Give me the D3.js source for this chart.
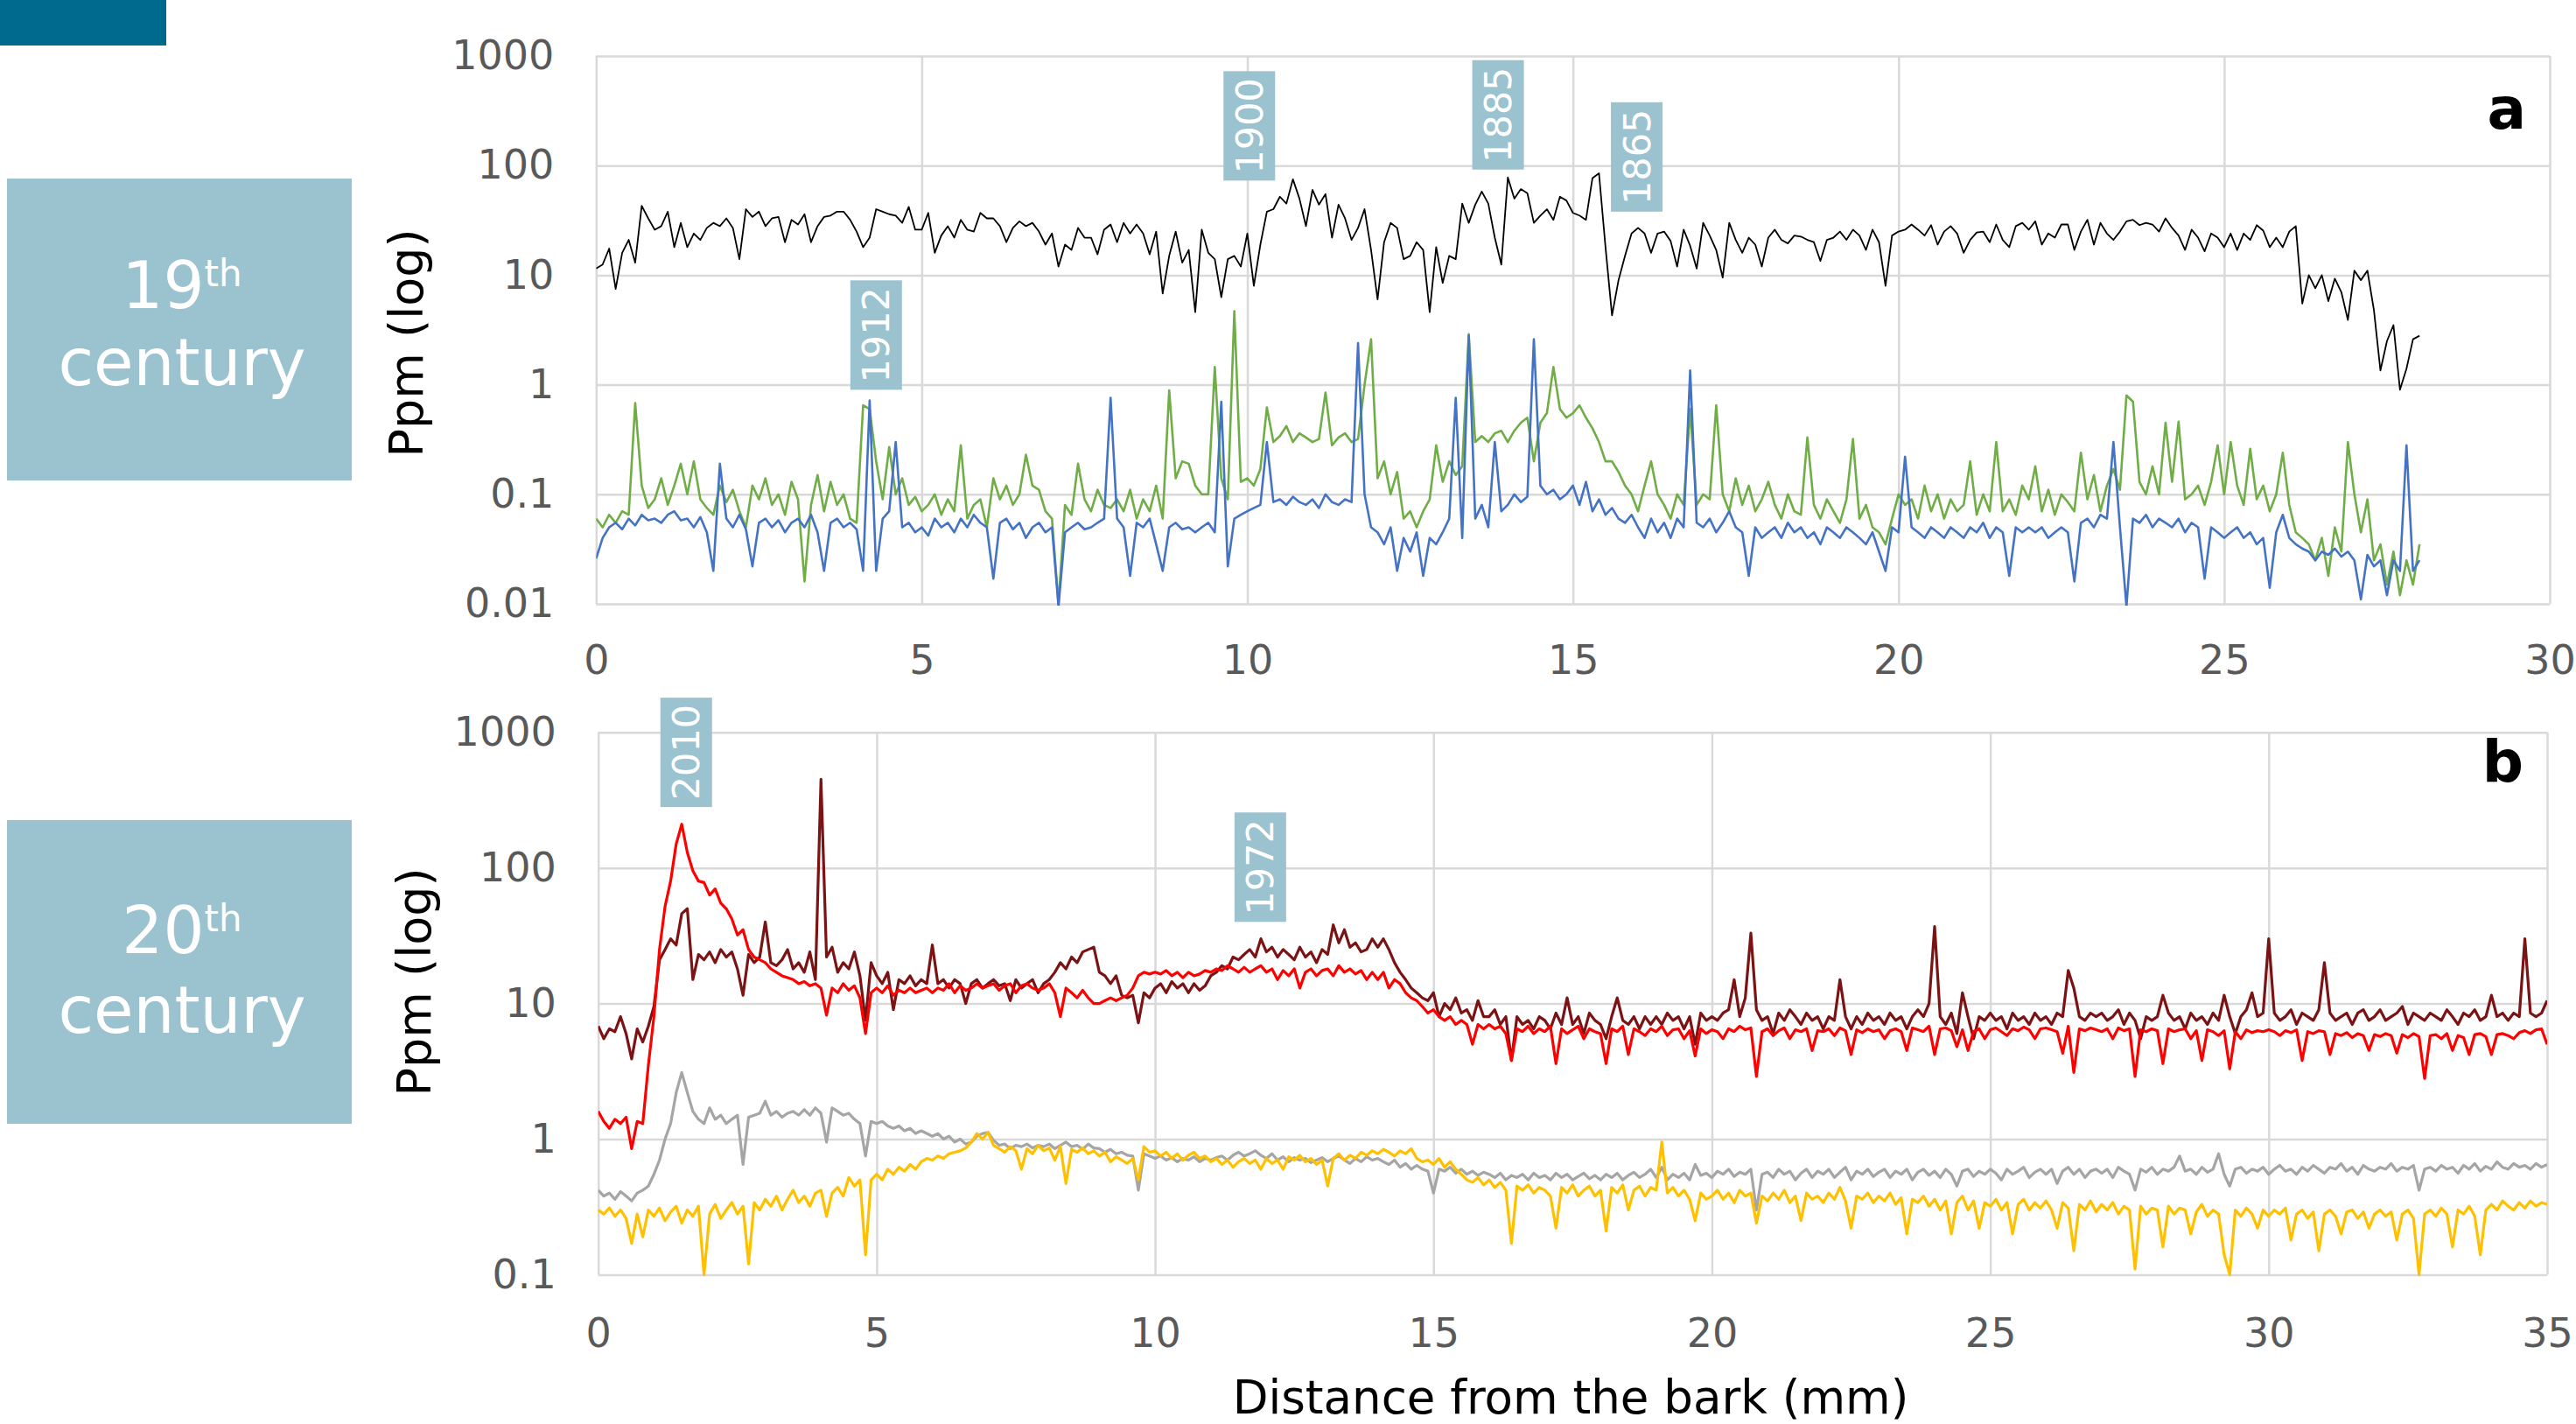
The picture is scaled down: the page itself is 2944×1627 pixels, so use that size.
<!DOCTYPE html>
<html>
<head>
<meta charset="utf-8">
<script src="https://cdn.jsdelivr.net/npm/d3@7"></script>
<style>
  body { margin: 0; background: #fff; }
  text { font-family: "DejaVu Sans", Verdana, sans-serif; }
</style>
</head>
<body>
<script>
// ---- data (ppm, one value every 0.1 mm from the bark) ----

// panel a : 19th century, 0 - 28 mm
const stepA = 0.1;
const blackA = [
  11.5,12.5,17.5,7.5,16,21,13,43,33,26,
  28,38,18,30,18,24,21,27,30,28,
  33,27,14,40,34,38,28,33,34,20,
  32,29,36,20,28,34,35,38,38,32,
  25,18,22,40,38,36,35,30,42,26,
  26,37,16,23,28,22,32,26,25,37,
  33,33,28,20,27,31,28,30,25,19,
  24,12,19,17,27,22,22,15.5,26,29,
  20,30,24,29,24,15.5,25,6.8,15,25,
  13,17,4.6,26,16,14,6.3,14,15,12,
  24,8,19,38,40,52,45,75,50,28,
  60,44,55,22,44,33,21,27,40,17,
  6,20,30,27,14,15,20,17,4.6,18,
  8.5,15,14,45,30,44,58,45,22,12.5,
  78,50,61,56,30,35,40,32,52,48,
  37,35,32,77,85,18,4.3,9,15,24,
  27,24,16,24,25,20.5,12,26,18.5,11.5,
  30,23,17,9.5,30,21,16,22,19,12,
  22,26,21,19.5,23,22.5,21,20,13.5,21,
  22,25,21,26,23,17,26,20,8,23,
  25,26,29,26,23,28.6,19,25,28,24,
  16,21,24.5,25,20,29,21,18,28,30,
  26,31,19,24,22,29,29,17,25,32,
  19,30,24,21,25,31,32,28.6,30,29,
  25,33,27,23,17,26,22,16.5,24,22,
  18,24,17,24,21,28.6,25.5,18,22,18,
  25,28,5.5,10,7.6,10,5.8,9.3,7,3.9,
  11,9,11,4.8,1.35,2.5,3.5,0.9,1.4,2.6,
  2.8
];
const greenA = [
  0.06,0.05,0.065,0.055,0.07,0.065,0.68,0.12,0.075,0.09,
  0.14,0.08,0.12,0.19,0.1,0.2,0.09,0.075,0.065,0.12,
  0.085,0.11,0.07,0.05,0.12,0.09,0.14,0.08,0.1,0.065,
  0.13,0.09,0.016,0.08,0.15,0.07,0.13,0.08,0.1,0.06,
  0.055,0.65,0.6,0.2,0.09,0.27,0.1,0.14,0.08,0.095,
  0.07,0.08,0.1,0.065,0.09,0.07,0.28,0.06,0.08,0.09,
  0.05,0.14,0.09,0.12,0.08,0.1,0.23,0.12,0.11,0.07,
  0.06,0.01,0.08,0.065,0.19,0.09,0.07,0.11,0.08,0.075,
  0.09,0.07,0.11,0.06,0.09,0.07,0.12,0.06,0.89,0.14,
  0.2,0.19,0.12,0.1,0.1,1.45,0.14,0.09,4.7,0.13,
  0.14,0.12,0.17,0.62,0.3,0.34,0.42,0.3,0.36,0.33,
  0.3,0.32,0.85,0.28,0.33,0.36,0.3,0.32,1.0,2.6,
  0.14,0.2,0.1,0.16,0.06,0.07,0.05,0.07,0.09,0.28,
  0.13,0.2,0.15,0.18,2.9,0.3,0.34,0.3,0.36,0.38,
  0.3,0.38,0.45,0.5,0.2,0.45,0.55,1.45,0.6,0.5,
  0.55,0.65,0.5,0.4,0.3,0.2,0.2,0.16,0.12,0.1,
  0.07,0.12,0.2,0.1,0.08,0.06,0.1,0.08,0.6,0.08,
  0.1,0.09,0.65,0.1,0.07,0.14,0.08,0.12,0.07,0.09,
  0.13,0.08,0.06,0.1,0.07,0.065,0.33,0.08,0.06,0.09,
  0.07,0.055,0.09,0.32,0.06,0.08,0.05,0.045,0.035,0.06,
  0.1,0.08,0.09,0.06,0.12,0.07,0.1,0.06,0.09,0.07,
  0.08,0.2,0.065,0.1,0.07,0.3,0.07,0.09,0.065,0.12,
  0.09,0.18,0.07,0.11,0.065,0.1,0.085,0.07,0.24,0.09,
  0.15,0.07,0.12,0.17,0.11,0.8,0.7,0.13,0.1,0.18,
  0.1,0.45,0.13,0.46,0.09,0.1,0.12,0.08,0.13,0.28,
  0.1,0.3,0.12,0.08,0.26,0.09,0.12,0.07,0.1,0.24,
  0.08,0.045,0.04,0.035,0.025,0.04,0.018,0.05,0.03,0.3,
  0.1,0.045,0.09,0.025,0.035,0.015,0.03,0.012,0.025,0.015,
  0.035
];
const blueA = [
  0.026,0.04,0.05,0.055,0.048,0.06,0.052,0.065,0.058,0.06,
  0.055,0.065,0.07,0.058,0.06,0.05,0.062,0.045,0.02,0.19,
  0.06,0.05,0.065,0.048,0.022,0.055,0.06,0.05,0.058,0.045,
  0.055,0.06,0.05,0.065,0.045,0.02,0.055,0.06,0.05,0.055,
  0.048,0.02,0.72,0.02,0.06,0.07,0.3,0.05,0.055,0.045,
  0.05,0.042,0.06,0.05,0.055,0.045,0.06,0.05,0.065,0.055,
  0.05,0.017,0.055,0.06,0.048,0.055,0.04,0.05,0.055,0.045,
  0.05,0.0095,0.045,0.05,0.055,0.048,0.05,0.055,0.06,0.76,
  0.06,0.05,0.018,0.055,0.05,0.06,0.035,0.02,0.05,0.055,
  0.048,0.05,0.045,0.05,0.055,0.045,0.7,0.022,0.06,0.065,
  0.07,0.075,0.08,0.3,0.085,0.09,0.08,0.095,0.085,0.08,
  0.09,0.075,0.1,0.085,0.08,0.09,0.085,2.4,0.1,0.05,
  0.045,0.035,0.05,0.02,0.04,0.03,0.045,0.018,0.04,0.035,
  0.045,0.06,0.76,0.04,2.8,0.06,0.08,0.05,0.3,0.07,
  0.08,0.1,0.085,0.095,2.6,0.12,0.1,0.11,0.09,0.1,
  0.12,0.08,0.13,0.07,0.09,0.065,0.075,0.06,0.055,0.065,
  0.05,0.04,0.06,0.045,0.055,0.04,0.06,0.05,1.35,0.055,
  0.05,0.06,0.045,0.055,0.07,0.05,0.045,0.018,0.05,0.04,
  0.045,0.05,0.04,0.055,0.045,0.05,0.04,0.045,0.035,0.05,
  0.045,0.04,0.05,0.045,0.04,0.035,0.045,0.03,0.02,0.05,
  0.045,0.22,0.05,0.045,0.04,0.05,0.045,0.04,0.05,0.045,
  0.04,0.05,0.045,0.055,0.04,0.05,0.045,0.018,0.05,0.045,
  0.05,0.045,0.05,0.04,0.045,0.05,0.045,0.016,0.055,0.06,
  0.05,0.065,0.06,0.3,0.05,0.0095,0.06,0.055,0.065,0.05,
  0.06,0.055,0.05,0.06,0.045,0.055,0.05,0.017,0.05,0.045,
  0.04,0.045,0.05,0.04,0.045,0.035,0.04,0.014,0.045,0.065,
  0.04,0.035,0.032,0.03,0.025,0.03,0.028,0.032,0.027,0.03,
  0.025,0.011,0.028,0.022,0.025,0.012,0.025,0.02,0.28,0.02,
  0.025
];

// panel b : 20th century, 0 - 35 mm
const stepB = 0.1;
const darkRedB = [
  6.8,5.5,6.5,6.2,8.0,6.0,3.9,6.5,5.2,6.8,
  9.5,21,25,30,27,46,50,15,23,21,
  24,20,25,22,24,18,11.5,23,20,22,
  40,20,19,21,25,18,20,17,24,15,
  450,22,26,17,20,18,24,16,7.5,20,
  16,14,17,9,15,14,16,13.5,15,14,
  27,14,15,13,15,14,10,14,15,13,
  14,15,13.5,14,10.5,15,13,14,15,12,
  14,15,17,20,18,22,20,24,25,26,
  17,16,14,16,11.5,11,11.5,7.2,12,11,
  13,14,12,14.5,13,14,12,14,12.5,13.5,
  16,17,19,18,22,21,23,25,22,30,
  24,26,22,25,23,21,26,22,24,20,
  25,23,38,28,35,26,28,24,25,30,
  26,30,25,20,17,15,13,12,11,10.5,
  12,8,10,9,11,8.5,9,7.5,10.5,8,
  8,9,7,8,3.8,8,7,7.5,6.5,8,
  7.5,6.5,8.5,7,11,7,8,6,8.5,7.5,
  7,5.5,8,11,7.5,7,8,6.5,8,7,
  8,7,8.5,7.5,8,6.5,8,5,8.5,7.5,
  8,7.5,8.5,9,15,8,11,33,9,7.5,
  8,6,8.5,7.5,9,8,7,8.5,7.5,8,
  6.5,8,7.5,15,8,6.5,8,7,8.5,7.5,
  8,7,8.5,7.5,8,6.5,8,9,8,10,
  37,8,7,8.5,6,12,8,5.5,8,7.5,
  8.5,7.5,8,6.5,8.5,7.5,8,7,8.5,7.5,
  8,7,8.5,8,17.5,13,8,7.5,8.5,8,
  8.5,7.5,8,9,7,8.5,7.5,5.5,8,7.5,
  8,11.5,8.5,7.5,8,6.5,8.5,7.5,8,7,
  8.5,7.5,11.5,8,6,8,9,12,8,8.5,
  30,8.5,7.5,8,9,7,8.5,8,7.5,9,
  20,8.5,7.5,8,8.5,7,8.5,9,7.5,8,
  9,7.5,8,8.5,9.5,7,8.5,8,7.5,8.5,
  8,7.5,9,8,7,8.5,8,9,7.5,8,
  11.5,8,8.5,7.5,8.5,8,30,8.5,8,8.5,
  10.5
];
const redB = [
  1.6,1.35,1.2,1.4,1.3,1.45,0.85,1.35,1.3,3.5,
  8,25,52,80,150,210,130,95,80,78,
  63,70,55,50,42,32,35,25,22,21,
  20,18,17,16,15.5,15,14,14.5,13.5,14,
  13,8.2,13,12,14,12.5,13.5,11,6,12,
  13,12,13.5,11.5,12.5,12,13,12,12.5,13,
  12,13,12.5,14,12,13.5,12.5,13,14,13,
  13.5,14,12.5,13.5,14,12,13.5,14,13,12.5,
  13,14,12,8,13,12,11,12.5,11,10,
  10,10.5,11,10.5,11,11.5,13,16,17,16.5,
  17,16.5,17.5,16,17,15.5,17,16,16.5,17.5,
  17,18,17.5,19,18,17,18.5,17,18,19,
  17,18,15,17.5,16,18,13,17,18,16,
  17.5,18,16,19,17,18,16.5,17.5,15,17,
  15,17,13,15,14,12,11,10.5,9.5,8.5,
  9,8,7.5,8,7,7.5,7,5,7,6.5,
  7,6.5,6.8,6,3.8,6.5,6.2,6.8,6,6.5,
  6.2,6.8,3.6,6.5,6,6.4,6.8,5.5,6.5,6.2,
  6,3.6,6.5,6.2,6.8,4.2,6.5,6.2,5.8,6.5,
  6.2,6.8,5.8,6.4,6.5,5.5,6.3,4.1,6.5,6,
  6.4,6.2,5.5,6.5,6.2,6.8,6.4,6.6,2.9,6.2,
  6.5,5.8,6.3,6.6,5.5,6.4,6.2,6.5,4.5,6.3,
  6.2,6.5,5.8,6.6,6.3,4.2,6.4,6.1,6.5,6.2,
  6.4,5.5,6.3,6.5,6.2,4.5,6.6,6.4,6.2,6.8,
  4.2,6.5,6.6,6.3,4.8,6.4,4.5,6.2,6.5,5.5,
  6.4,6.6,6.2,5.8,6.5,6.3,6.7,6.4,5.5,6.5,
  6.6,6.4,6.2,4.3,6.8,3.1,6.5,6.3,6.6,6.4,
  6.2,6.5,5.5,6.6,6.3,6.5,2.9,6.4,6.2,6.5,
  6.3,3.6,6.5,6.2,6.4,6.5,5.5,6.3,3.8,6.4,
  6.2,5.8,6.3,3.3,6.2,5.5,6.4,6.1,6.3,6.2,
  6.4,6.2,5.8,6.3,6.1,6.4,3.8,6.2,6,6.3,
  6.2,4.2,6,5.8,6.1,5.6,6,5.8,4.5,5.9,
  5.7,6,5.8,4.3,5.9,5.6,6,5.7,2.8,5.8,
  5.9,5.5,6,4.5,5.8,5.6,4.2,5.9,6,5.7,
  4.2,5.9,6,5.8,5.5,6.1,6.3,6,6.4,6.5,
  5
];
const greyB = [
  0.42,0.38,0.4,0.36,0.41,0.38,0.35,0.4,0.42,0.45,
  0.55,0.7,1.0,1.3,2.2,3.1,2.2,1.6,1.4,1.3,
  1.7,1.4,1.5,1.3,1.4,1.5,0.65,1.45,1.5,1.55,
  1.9,1.5,1.6,1.45,1.55,1.6,1.5,1.65,1.5,1.7,
  1.55,0.95,1.7,1.6,1.5,1.55,1.4,1.3,0.75,1.35,
  1.3,1.35,1.25,1.2,1.25,1.15,1.2,1.1,1.15,1.1,
  1.05,1.1,1.0,1.05,0.95,1.0,0.92,0.95,1.05,1.1,
  1.12,0.98,0.9,0.92,0.85,0.9,0.88,0.92,0.86,0.9,
  0.88,0.92,0.85,0.9,0.95,0.88,0.9,0.84,0.92,0.86,
  0.85,0.8,0.84,0.78,0.8,0.76,0.75,0.42,0.78,0.75,
  0.72,0.75,0.7,0.73,0.68,0.72,0.7,0.74,0.68,0.72,
  0.7,0.73,0.75,0.7,0.76,0.8,0.75,0.78,0.82,0.76,
  0.72,0.78,0.7,0.74,0.68,0.73,0.7,0.72,0.67,0.7,
  0.73,0.68,0.72,0.75,0.7,0.66,0.72,0.68,0.74,0.7,
  0.72,0.68,0.65,0.7,0.62,0.66,0.6,0.64,0.6,0.58,
  0.4,0.6,0.58,0.62,0.56,0.6,0.55,0.58,0.54,0.57,
  0.55,0.52,0.56,0.5,0.54,0.52,0.55,0.5,0.56,0.52,
  0.54,0.5,0.56,0.52,0.55,0.5,0.53,0.56,0.51,0.54,
  0.5,0.55,0.52,0.56,0.5,0.54,0.57,0.52,0.55,0.6,
  0.52,0.62,0.5,0.55,0.52,0.56,0.5,0.65,0.54,0.56,
  0.52,0.58,0.55,0.6,0.53,0.57,0.55,0.6,0.3,0.55,
  0.57,0.52,0.6,0.55,0.58,0.5,0.56,0.6,0.52,0.58,
  0.55,0.6,0.52,0.57,0.62,0.5,0.58,0.55,0.6,0.53,
  0.57,0.6,0.52,0.58,0.55,0.6,0.5,0.57,0.6,0.54,
  0.58,0.52,0.6,0.55,0.45,0.58,0.6,0.53,0.58,0.55,
  0.6,0.56,0.5,0.6,0.55,0.58,0.62,0.52,0.57,0.6,
  0.55,0.6,0.47,0.58,0.62,0.55,0.6,0.52,0.58,0.6,
  0.56,0.6,0.52,0.62,0.58,0.55,0.42,0.6,0.57,0.62,
  0.55,0.6,0.58,0.62,0.75,0.58,0.6,0.55,0.62,0.57,
  0.6,0.78,0.55,0.45,0.6,0.62,0.56,0.6,0.58,0.62,
  0.55,0.6,0.64,0.58,0.6,0.55,0.62,0.58,0.64,0.6,
  0.56,0.62,0.6,0.66,0.58,0.62,0.55,0.64,0.6,0.58,
  0.62,0.6,0.66,0.58,0.62,0.6,0.64,0.42,0.6,0.62,
  0.58,0.64,0.6,0.62,0.56,0.64,0.6,0.66,0.58,0.63,
  0.6,0.68,0.62,0.6,0.66,0.62,0.64,0.6,0.66,0.62,
  0.65
];
const yellowB = [
  0.3,0.28,0.31,0.27,0.3,0.26,0.17,0.28,0.19,0.3,
  0.27,0.31,0.25,0.29,0.32,0.24,0.3,0.27,0.32,0.1,
  0.28,0.33,0.26,0.3,0.34,0.28,0.32,0.12,0.34,0.3,
  0.36,0.32,0.38,0.3,0.36,0.42,0.34,0.38,0.32,0.4,
  0.42,0.27,0.4,0.44,0.38,0.52,0.45,0.5,0.14,0.5,
  0.55,0.5,0.6,0.55,0.62,0.58,0.65,0.6,0.68,0.72,
  0.7,0.75,0.72,0.78,0.8,0.82,0.86,0.95,1.1,1.0,
  1.12,0.9,0.85,0.8,0.88,0.82,0.6,0.85,0.78,0.9,
  0.82,0.86,0.7,0.88,0.47,0.84,0.8,0.86,0.78,0.82,
  0.75,0.8,0.68,0.74,0.7,0.66,0.72,0.5,0.88,0.8,
  0.82,0.75,0.8,0.72,0.78,0.7,0.76,0.8,0.72,0.75,
  0.68,0.72,0.65,0.7,0.62,0.68,0.72,0.66,0.7,0.6,
  0.72,0.66,0.7,0.6,0.74,0.7,0.76,0.68,0.72,0.65,
  0.7,0.45,0.72,0.78,0.7,0.76,0.72,0.8,0.76,0.82,
  0.78,0.84,0.8,0.75,0.82,0.78,0.85,0.72,0.68,0.7,
  0.65,0.72,0.62,0.68,0.6,0.55,0.5,0.48,0.52,0.46,
  0.5,0.44,0.48,0.42,0.17,0.45,0.42,0.46,0.4,0.44,
  0.42,0.38,0.22,0.44,0.4,0.46,0.38,0.42,0.45,0.38,
  0.42,0.21,0.44,0.4,0.46,0.3,0.42,0.45,0.38,0.44,
  0.42,0.95,0.4,0.44,0.38,0.42,0.36,0.25,0.4,0.36,
  0.38,0.42,0.36,0.4,0.34,0.42,0.38,0.4,0.24,0.38,
  0.35,0.4,0.36,0.42,0.34,0.38,0.25,0.4,0.36,0.38,
  0.34,0.4,0.36,0.44,0.35,0.22,0.38,0.36,0.4,0.34,
  0.38,0.35,0.4,0.33,0.37,0.2,0.36,0.34,0.38,0.32,
  0.36,0.3,0.35,0.2,0.34,0.38,0.3,0.35,0.22,0.34,
  0.32,0.36,0.3,0.34,0.2,0.33,0.36,0.3,0.34,0.31,
  0.35,0.3,0.22,0.34,0.31,0.15,0.33,0.3,0.35,0.29,
  0.33,0.3,0.34,0.28,0.32,0.3,0.11,0.32,0.28,0.31,
  0.3,0.16,0.32,0.28,0.31,0.3,0.2,0.29,0.33,0.27,
  0.3,0.28,0.14,0.1,0.3,0.27,0.31,0.28,0.22,0.3,
  0.27,0.3,0.28,0.31,0.18,0.28,0.3,0.26,0.29,0.15,
  0.28,0.3,0.27,0.2,0.29,0.3,0.26,0.29,0.22,0.28,
  0.3,0.27,0.29,0.18,0.28,0.3,0.26,0.1,0.28,0.3,
  0.27,0.31,0.28,0.16,0.3,0.28,0.32,0.27,0.14,0.3,
  0.33,0.3,0.35,0.32,0.3,0.34,0.31,0.35,0.32,0.34,
  0.33
];

// tick labels
const xTicksA = [0, 5, 10, 15, 20, 25, 30];
const yTicksA = [0.01, 0.1, 1, 10, 100, 1000];
const xTicksB = [0, 5, 10, 15, 20, 25, 30, 35];
const yTicksB = [0.1, 1, 10, 100, 1000];

// year markers: label, distance (mm), ppm at the foot of the tag
const yearsA = ["1912", "1900", "1885", "1865"];
const yearMmA = [4.3, 10.03, 13.85, 15.98];
const yearPpmA = [0.9, 73, 92, 38];
const yearsB = ["2010", "1972"];
const yearMmB = [1.58, 11.89];
const yearPpmB = [281, 40];


const svg = d3.select("body")
    .append("svg")
    .attr("width", 2944)
    .attr("height", 1627);

const tagFill = "#9bc2cf";

// dark strip top left
svg.append("rect")
    .attr("x", 0).attr("y", 0)
    .attr("width", 190).attr("height", 52)
    .attr("fill", "#006a8e");

// century boxes on the left
function centuryBox(y0, h, num, baseTop, baseBottom) {
    svg.append("rect")
        .attr("x", 8).attr("y", y0)
        .attr("width", 394).attr("height", h)
        .attr("fill", tagFill);
    const t = svg.append("text")
        .attr("x", 208).attr("y", baseTop)
        .attr("text-anchor", "middle")
        .attr("fill", "#fff")
        .style("font-size", "74px");
    t.append("tspan").text(num);
    t.append("tspan")
        .attr("dy", -25)
        .style("font-size", "42px")
        .text("th");
    svg.append("text")
        .attr("x", 208).attr("y", baseBottom)
        .attr("text-anchor", "middle")
        .attr("fill", "#fff")
        .style("font-size", "74px")
        .text("century");
}
centuryBox(204, 345, "19", 352, 440);
centuryBox(937, 347, "20", 1089, 1180);


function drawPanel(p) {
    const x = d3.scaleLinear().domain([0, p.xMax]).range([p.left, p.right]);
    const y = d3.scaleLog().domain([p.yMin, 1000]).range([p.bottom, p.top]);

    // grid + tick labels
    svg.append("g")
        .attr("transform", `translate(${p.left},0)`)
        .call(d3.axisLeft(y)
            .tickValues(p.yTicks)
            .tickFormat(d => d)
            .tickSize(-(p.right - p.left))
            .tickPadding(48))
        .call(g => g.select(".domain").remove())
        .call(g => g.selectAll("line").attr("stroke", "#d9d9d9").attr("stroke-width", 2.5))
        .call(g => g.selectAll("text")
            .attr("fill", "#595959")
            .style("font-size", "46px")
            .style("font-family", "DejaVu Sans"));

    svg.append("g")
        .attr("transform", `translate(0,${p.bottom})`)
        .call(d3.axisBottom(x)
            .tickValues(p.xTicks)
            .tickSize(-(p.bottom - p.top))
            .tickPadding(p.xPad))
        .call(g => g.select(".domain").remove())
        .call(g => g.selectAll("line").attr("stroke", "#d9d9d9").attr("stroke-width", 2.5))
        .call(g => g.selectAll("text")
            .attr("fill", "#595959")
            .style("font-size", "46px")
            .style("font-family", "DejaVu Sans"));

    // clip to plot area
    svg.append("clipPath")
        .attr("id", p.id)
        .append("rect")
        .attr("x", p.left).attr("y", p.top - 2)
        .attr("width", p.right - p.left).attr("height", p.bottom - p.top + 4);

    const plot = svg.append("g").attr("clip-path", `url(#${p.id})`);
    p.series.forEach(s => {
        const line = d3.line()
            .x((d, i) => x(i * p.step))
            .y(d => y(d));
        plot.append("path")
            .datum(s.values)
            .attr("fill", "none")
            .attr("stroke", s.color)
            .attr("stroke-width", s.width)
            .attr("stroke-linejoin", "round")
            .attr("d", line);
    });

    // year tags
    p.years.forEach((label, i) => {
        const cx = x(p.yearMm[i]);
        const yb = y(p.yearPpm[i]);
        svg.append("rect")
            .attr("x", cx - 29.5).attr("y", yb - 125)
            .attr("width", 59).attr("height", 125)
            .attr("fill", tagFill);
        svg.append("text")
            .attr("transform", `translate(${cx},${yb - 62.5}) rotate(-90)`)
            .attr("text-anchor", "middle")
            .attr("dominant-baseline", "central")
            .attr("fill", "#fff")
            .style("font-size", "43px")
            .text(label);
    });

    // panel letter
    svg.append("text")
        .attr("x", p.right - 27).attr("y", p.letterY)
        .attr("text-anchor", "end")
        .style("font-size", "66px")
        .style("font-weight", "bold")
        .text(p.letter);

    // y title
    svg.append("text")
        .attr("transform", `translate(${p.titleX},${p.titleY}) rotate(-90)`)
        .attr("text-anchor", "middle")
        .style("font-size", "54px")
        .text("Ppm (log)");
}

drawPanel({
    id: "clipA", left: 681.3, right: 2914, top: 64, bottom: 690,
    xMax: 30, yMin: 0.01, xTicks: xTicksA, yTicks: yTicksA, xPad: 47,
    step: stepA,
    series: [
        {values: blackA, color: "#000000", width: 1.8},
        {values: greenA, color: "#70ad47", width: 2.6},
        {values: blueA, color: "#4472c4", width: 2.6}
    ],
    years: yearsA, yearMm: yearMmA, yearPpm: yearPpmA,
    letter: "a", letterY: 147,
    titleX: 483, titleY: 392
});

drawPanel({
    id: "clipB", left: 683.7, right: 2911, top: 836.7, bottom: 1456.4,
    xMax: 35, yMin: 0.1, xTicks: xTicksB, yTicks: yTicksB, xPad: 50,
    step: stepB,
    series: [
        {values: darkRedB, color: "#7b1315", width: 3.2},
        {values: redB, color: "#ff0000", width: 3.2},
        {values: greyB, color: "#a5a5a5", width: 3.2},
        {values: yellowB, color: "#ffc000", width: 3.2}
    ],
    years: yearsB, yearMm: yearMmB, yearPpm: yearPpmB,
    letter: "b", letterY: 893,
    titleX: 492, titleY: 1122
});

// x title
svg.append("text")
    .attr("x", 1795).attr("y", 1615)
    .attr("text-anchor", "middle")
    .style("font-size", "53px")
    .text("Distance from the bark (mm)");
</script>
</body>
</html>
